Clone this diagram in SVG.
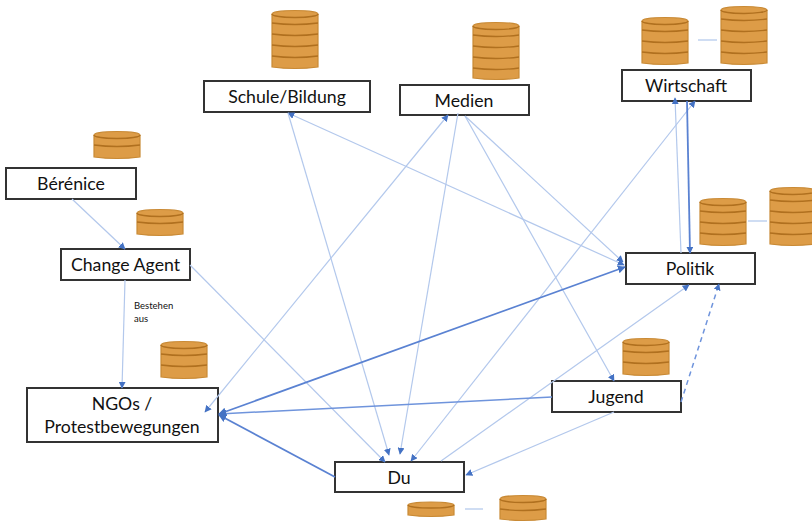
<svg xmlns="http://www.w3.org/2000/svg" width="812" height="525" viewBox="0 0 812 525">
<style>
text{font-family:"Lato","Liberation Sans",sans-serif;fill:#111;text-anchor:middle;font-size:17.700px}
.box{fill:#fff;stroke:#333;stroke-width:2}
.body{fill:#dd9c47;stroke:#c98a35;stroke-width:1.2}
.ln{fill:none;stroke:#b0701f;stroke-width:1.3}
.c{fill:none}
.l{stroke:#b3c8ec;stroke-width:1.2}
.m{stroke:#6f94dc;stroke-width:1.5}
.d{stroke:#5a82d2;stroke-width:1.8}
.s{fill:none;stroke:#c0d2f0;stroke-width:1.5}
</style>
<defs>
<marker id="a" viewBox="0 0 10 10" refX="9" refY="5" markerWidth="7" markerHeight="7" markerUnits="userSpaceOnUse" orient="auto-start-reverse"><path d="M0 0L10 5L0 10z" fill="#4472c4"/></marker>
<marker id="b" viewBox="0 0 10 10" refX="9" refY="5" markerWidth="8" markerHeight="8" markerUnits="userSpaceOnUse" orient="auto-start-reverse"><path d="M0 0L10 5L0 10z" fill="#4472c4"/></marker>
</defs>
<g id="stack-wirtschaft-1"><path class="body" d="M642 21a23 3.500 0 0 1 46 0V63q-23 3-46 0z"/><path class="ln" d="M642 21a23 3.500 0 0 0 46 0M642 30q23 3 46 0M642 41q23 3 46 0M642 52q23 3 46 0"/></g>
<g id="stack-wirtschaft-2"><path class="body" d="M721 10a23 3.500 0 0 1 46 0V63q-23 3-46 0z"/><path class="ln" d="M721 10a23 3.500 0 0 0 46 0M721 19q23 3 46 0M721 30q23 3 46 0M721 41q23 3 46 0M721 52q23 3 46 0"/></g>
<g id="stack-schule"><path class="body" d="M272 14a23 3.500 0 0 1 46 0V67q-23 3-46 0z"/><path class="ln" d="M272 14a23 3.500 0 0 0 46 0M272 23q23 3 46 0M272 34q23 3 46 0M272 45q23 3 46 0M272 56q23 3 46 0"/></g>
<g id="stack-medien"><path class="body" d="M473 26a23 3.500 0 0 1 46 0V78q-23 3-46 0z"/><path class="ln" d="M473 26a23 3.500 0 0 0 46 0M473 35q23 3 46 0M473 46q23 3 46 0M473 57q23 3 46 0M473 68q23 3 46 0"/></g>
<g id="stack-politik-1"><path class="body" d="M700 202a23 3.500 0 0 1 46 0V244q-23 3-46 0z"/><path class="ln" d="M700 202a23 3.500 0 0 0 46 0M700 211q23 3 46 0M700 222q23 3 46 0M700 233q23 3 46 0"/></g>
<g id="stack-politik-2"><path class="body" d="M770 191a23 3.500 0 0 1 46 0V244q-23 3-46 0z"/><path class="ln" d="M770 191a23 3.500 0 0 0 46 0M770 200q23 3 46 0M770 211q23 3 46 0M770 222q23 3 46 0M770 233q23 3 46 0"/></g>
<g id="stack-berenice"><path class="body" d="M94 135a23 3.500 0 0 1 46 0V157q-23 3-46 0z"/><path class="ln" d="M94 135a23 3.500 0 0 0 46 0M94 145q23 3 46 0"/></g>
<g id="stack-change"><path class="body" d="M137 213a23 3.500 0 0 1 46 0V234q-23 3-46 0z"/><path class="ln" d="M137 213a23 3.500 0 0 0 46 0M137 222q23 3 46 0"/></g>
<g id="stack-ngo"><path class="body" d="M161 345a23 3.500 0 0 1 46 0V377q-23 3-46 0z"/><path class="ln" d="M161 345a23 3.500 0 0 0 46 0M161 354q23 3 46 0M161 365q23 3 46 0"/></g>
<g id="stack-jugend"><path class="body" d="M623 342a23 3.500 0 0 1 46 0V374q-23 3-46 0z"/><path class="ln" d="M623 342a23 3.500 0 0 0 46 0M623 351q23 3 46 0M623 362q23 3 46 0"/></g>
<g id="stack-du-1"><path class="body" d="M408 505a23 3 0 0 1 46 0V515q-23 3-46 0z"/><path class="ln" d="M408 505a23 3 0 0 0 46 0"/></g>
<g id="stack-du-2"><path class="body" d="M500 499a23 3.500 0 0 1 46 0V519q-23 3-46 0z"/><path class="ln" d="M500 499a23 3.500 0 0 0 46 0M500 509q23 3 46 0"/></g>
<g id="berenice"><rect class="box" x="6" y="168" width="130" height="31"/><text x="71" y="190">Bérénice</text></g>
<g id="change-agent"><rect class="box" x="61" y="249" width="129" height="31"/><text x="125.500" y="271">Change Agent</text></g>
<g id="ngos"><rect class="box" x="27" y="388" width="191" height="54"/><text x="122" y="410">NGOs /</text><text x="122" y="433">Protestbewegungen</text></g>
<g id="du"><rect class="box" x="335" y="462" width="129" height="30"/><text x="399" y="484">Du</text></g>
<g id="jugend"><rect class="box" x="552" y="381" width="129" height="31"/><text x="616" y="403">Jugend</text></g>
<g id="politik"><rect class="box" x="626" y="253" width="129" height="31"/><text x="690" y="275">Politik</text></g>
<g id="wirtschaft"><rect class="box" x="622" y="70" width="129" height="31"/><text x="686" y="92">Wirtschaft</text></g>
<g id="medien"><rect class="box" x="400" y="85" width="129" height="30"/><text x="464" y="107">Medien</text></g>
<g id="schule"><rect class="box" x="204" y="81" width="166" height="31"/><text x="287" y="103">Schule/Bildung</text></g>
<g id="label"><text x="134" y="309" style="font-size:9.500px;text-anchor:start">Bestehen</text><text x="134" y="322" style="font-size:9.500px;text-anchor:start">aus</text></g>
<g id="connectors">
<path class="l" marker-end="url(#a)" d="M72 199L125 249"/>
<path class="l" marker-end="url(#a)" d="M125 280L122 388"/>
<path class="l" marker-end="url(#a)" d="M190 265L385 462"/>
<path class="l" marker-start="url(#a)" marker-end="url(#a)" d="M288 113L624 265"/>
<path class="l" marker-end="url(#a)" d="M288 113L389 455"/>
<path class="l" marker-end="url(#a)" d="M465 116L623 262"/>
<path class="l" marker-start="url(#a)" marker-end="url(#a)" d="M448 115L205 412"/>
<path class="l" marker-end="url(#a)" d="M458 113L400 454"/>
<path class="l" marker-end="url(#a)" d="M465 116L614 381"/>
<path class="l" marker-start="url(#a)" marker-end="url(#a)" d="M411 461L695 101"/>
<path class="l" marker-end="url(#a)" d="M441 461L689 285"/>
<path class="l" marker-end="url(#a)" d="M681 253L675 98"/>
<path class="l" marker-end="url(#a)" d="M614 412L466 475"/>
<path class="m" marker-end="url(#b)" d="M552 397L219 414"/>
<path class="d" marker-start="url(#b)" marker-end="url(#b)" d="M219 414L625 267"/>
<path class="d" marker-end="url(#b)" d="M335 477L219 415"/>
<path class="m" marker-end="url(#a)" stroke-dasharray="5 4" d="M681 402L719 284"/>
<path class="d" marker-end="url(#a)" d="M687 101L690 253"/>
<path class="s" d="M698 40H717M748 221H767M465 509H483"/>
</g>
</svg>
